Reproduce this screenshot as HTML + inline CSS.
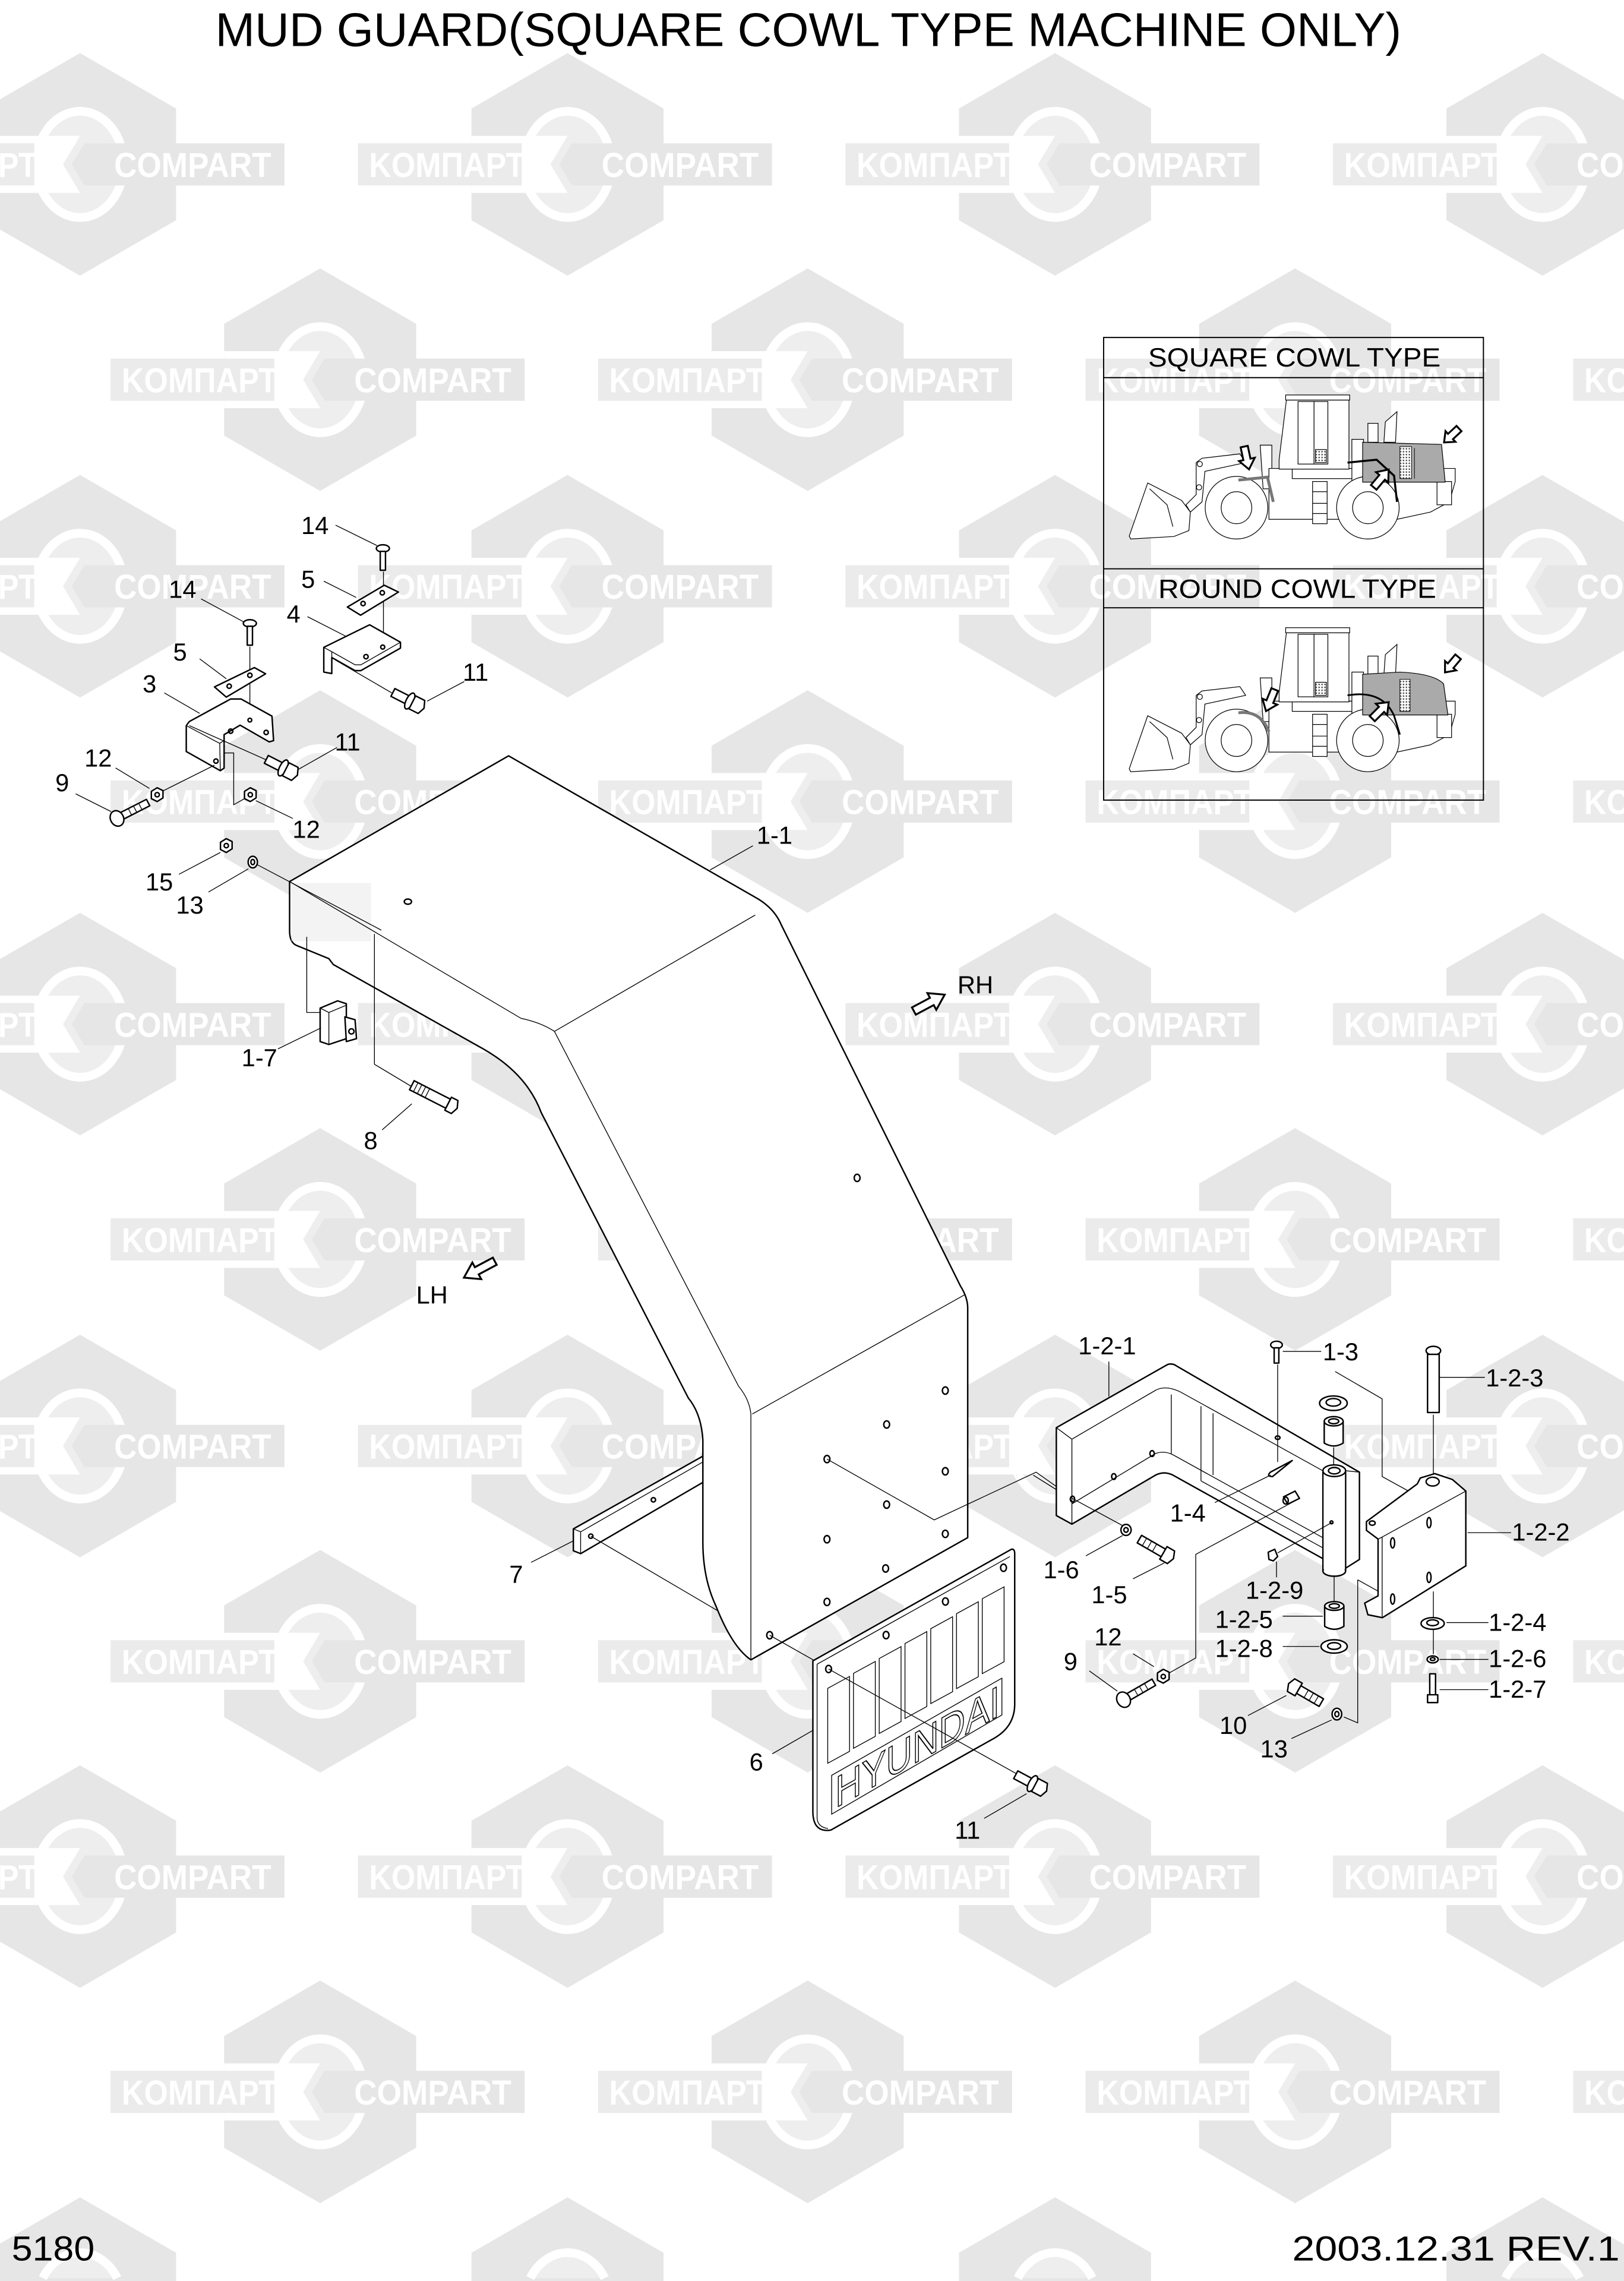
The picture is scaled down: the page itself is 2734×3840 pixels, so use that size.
<!DOCTYPE html>
<html><head><meta charset="utf-8"><style>
html,body{margin:0;padding:0;background:#fff;width:2734px;height:3840px;overflow:hidden}
svg{display:block}
.l{font-family:"Liberation Sans",sans-serif;font-size:17px;fill:#000}
.o{fill:#fff;stroke:#000;stroke-width:1;stroke-linejoin:round}
.n{fill:none;stroke:#000;stroke-width:1;stroke-linejoin:round}
.t{fill:none;stroke:#000;stroke-width:0.55}
.w{font-family:"Liberation Sans",sans-serif;font-weight:bold;font-size:24px;fill:#fff}
</style></head><body>
<svg width="2734" height="3840" viewBox="0 0 1116 1568" preserveAspectRatio="none" xmlns="http://www.w3.org/2000/svg">
<defs>
<g id="wm">
<polygon points="0,-76.5 66,-38.4 66,38.4 0,76.5 -66,38.4 -66,-38.4" fill="#e6e6e6"/>
<ellipse cx="0" cy="0" rx="30" ry="36.5" fill="#eeeeee" stroke="#fff" stroke-width="6"/>
<polygon points="-66,-19.6 0,-19.6 -11.7,0 0,19.6 -66,19.6" fill="#fff"/>
<rect x="-144" y="-14.5" width="112.5" height="29" fill="#ebebeb"/>
<polygon points="3,-14.5 140.5,-14.5 140.5,14.5 3,14.5 -5.7,0" fill="#e6e6e6"/>
<text class="w" x="-136.4" y="8.7" textLength="107" lengthAdjust="spacingAndGlyphs">KOMПАРТ</text>
<text class="w" x="23.4" y="8.7" textLength="108" lengthAdjust="spacingAndGlyphs">COMPART</text>
</g>
<g id="wmb">
<polygon points="0,-76.5 66,-38.4 66,-19 -66,-19 -66,-38.4" fill="#e6e6e6"/>
<path d="M-25.6,-21 A30 36.5 0 0 1 25.6,-21 Z" fill="#eeeeee"/>
<path d="M-25.6,-21 A30 36.5 0 0 1 25.6,-21" fill="none" stroke="#fff" stroke-width="6"/>
</g>
<pattern id="hatch" width="2" height="2" patternUnits="userSpaceOnUse"><rect width="2" height="2" fill="#fff"/><rect width="1" height="1" fill="#555"/></pattern>
</defs>
<rect width="1116" height="1568" fill="#fff"/>
<use href="#wm" x="55" y="113"/><use href="#wm" x="390" y="113"/><use href="#wm" x="725" y="113"/><use href="#wm" x="1060" y="113"/>
<use href="#wm" x="55" y="403"/><use href="#wm" x="390" y="403"/><use href="#wm" x="725" y="403"/><use href="#wm" x="1060" y="403"/>
<use href="#wm" x="55" y="704"/><use href="#wm" x="390" y="704"/><use href="#wm" x="725" y="704"/><use href="#wm" x="1060" y="704"/>
<use href="#wm" x="55" y="994"/><use href="#wm" x="390" y="994"/><use href="#wm" x="725" y="994"/><use href="#wm" x="1060" y="994"/>
<use href="#wm" x="55" y="1290"/><use href="#wm" x="390" y="1290"/><use href="#wm" x="725" y="1290"/><use href="#wm" x="1060" y="1290"/>
<use href="#wmb" x="55" y="1587"/><use href="#wmb" x="390" y="1587"/><use href="#wmb" x="725" y="1587"/><use href="#wmb" x="1060" y="1587"/>
<use href="#wm" x="220" y="261"/><use href="#wm" x="555" y="261"/><use href="#wm" x="890" y="261"/><use href="#wm" x="1225" y="261"/>
<use href="#wm" x="220" y="551"/><use href="#wm" x="555" y="551"/><use href="#wm" x="890" y="551"/><use href="#wm" x="1225" y="551"/>
<use href="#wm" x="220" y="852"/><use href="#wm" x="555" y="852"/><use href="#wm" x="890" y="852"/><use href="#wm" x="1225" y="852"/>
<use href="#wm" x="220" y="1142"/><use href="#wm" x="555" y="1142"/><use href="#wm" x="890" y="1142"/><use href="#wm" x="1225" y="1142"/>
<use href="#wm" x="220" y="1438"/><use href="#wm" x="555" y="1438"/><use href="#wm" x="890" y="1438"/><use href="#wm" x="1225" y="1438"/>

<text x="148" y="31.7" font-family="Liberation Sans, sans-serif" font-size="32.5" textLength="815" lengthAdjust="spacingAndGlyphs">MUD GUARD(SQUARE COWL TYPE MACHINE ONLY)</text>
<text x="8" y="1554" font-family="Liberation Sans, sans-serif" font-size="24" textLength="57" lengthAdjust="spacingAndGlyphs">5180</text>
<text x="888" y="1554" font-family="Liberation Sans, sans-serif" font-size="24" textLength="225" lengthAdjust="spacingAndGlyphs">2003.12.31  REV.1</text>

<g>
<rect x="758.4" y="232" width="261" height="318" fill="none" stroke="#000" stroke-width="0.8"/>
<line x1="758.4" y1="259.6" x2="1019.4" y2="259.6" stroke="#000" stroke-width="0.8"/>
<line x1="758.4" y1="391" x2="1019.4" y2="391" stroke="#000" stroke-width="0.8"/>
<line x1="758.4" y1="417.8" x2="1019.4" y2="417.8" stroke="#000" stroke-width="0.8"/>
<text x="789" y="252" font-family="Liberation Sans, sans-serif" font-size="18" textLength="201" lengthAdjust="spacingAndGlyphs">SQUARE COWL TYPE</text>
<text x="796" y="411" font-family="Liberation Sans, sans-serif" font-size="18" textLength="191" lengthAdjust="spacingAndGlyphs">ROUND COWL TYPE</text>
</g>
<g id="loader" fill="#fff" stroke="#000" stroke-width="0.5">
<path d="M788.7,332 L812,344 L818,352 L817,364.7 L806.7,368.8 L777,370.5 L776,368.5 Z"/>
<path d="M790,336 L802,347 L806,362" fill="none"/>
<path d="M822,318 L826,315 L852,312 L856,318 L828,324 L826,345 L818,352 L815,347 L822,340 Z"/>
<circle cx="824.5" cy="319" r="1.8"/><circle cx="824" cy="335" r="1.8"/>
<path d="M866,306 L874,306 L874,332 L878,334 L878,336 L868,336 Z"/>
<path d="M872,322 L1000,322 L1000,331 L996,345 L983,352 L960,357 L872,357 Z"/>
<rect x="888" y="322" width="46" height="7"/>
<rect x="987.5" y="331" width="10" height="16"/>
<path d="M884,275 L927,275 L927,322.5 L879,322.5 L879,316 Z"/>
<rect x="883.5" y="271.5" width="44" height="3.5"/>
<rect x="892" y="276" width="11" height="43"/><rect x="903" y="276" width="9.5" height="43"/>
<rect x="904" y="309" width="7.5" height="9" fill="url(#hatch)"/>
<rect x="902" y="331" width="10" height="29"/>
<line x1="902" y1="338" x2="912" y2="338"/><line x1="902" y1="346" x2="912" y2="346"/><line x1="902" y1="353" x2="912" y2="353"/>
<rect x="940" y="291" width="7" height="13"/>
<path d="M951,304 L952,290 L960,283 L959,304 Z"/>
<rect x="929" y="302" width="8" height="29"/>
<circle cx="849.7" cy="349" r="21.5"/><ellipse cx="849.7" cy="349" rx="10.5" ry="11"/>
<circle cx="940" cy="349" r="21.5"/><ellipse cx="940" cy="349" rx="10.5" ry="11"/>
</g>
<use href="#loader" x="0" y="160"/>
<path d="M936.4,304 L990.6,305.5 L993.1,331.4 L936.4,331.4 Z" fill="#aaa" stroke="#000" stroke-width="0.5"/>
<rect x="962" y="307" width="8" height="22" fill="url(#hatch)" stroke="#000" stroke-width="0.4"/>
<line x1="972" y1="308" x2="972" y2="329" stroke="#000" stroke-width="0.4"/>
<path d="M926,318 L946,316 L958,327 L960,345" fill="none" stroke="#000" stroke-width="1.4"/>
<path d="M851,330 L871,328 L875,345" fill="none" stroke="#777" stroke-width="2"/>
<path d="M936.4,463.5 L962,462 Q985,463 992,470 L995,491.5 L936.4,491.5 Z" fill="#aaa" stroke="#000" stroke-width="0.5"/>
<rect x="962" y="467" width="7" height="22" fill="url(#hatch)" stroke="#000" stroke-width="0.4"/>
<path d="M926,478 Q950,474 958,492 L962,505" fill="none" stroke="#000" stroke-width="1.2"/>
<path d="M851,490 Q866,488 872,503" fill="none" stroke="#777" stroke-width="2"/>
<g fill="#fff" stroke="#000" stroke-width="1.3">
<polygon transform="translate(855,307) rotate(78)" points="0,-2.5 9,-2.5 9,-5.5 16,0 9,5.5 9,2.5 0,2.5"/>
<polygon transform="translate(944,335) rotate(-50)" points="0,-2.5 9,-2.5 9,-5.5 16,0 9,5.5 9,2.5 0,2.5"/>
<polygon transform="translate(1002.6,294.6) rotate(137)" points="0,-2.5 8,-2.5 8,-5 14,0 8,5 8,2.5 0,2.5"/>
<polygon transform="translate(876,474) rotate(112)" points="0,-2.5 9,-2.5 9,-5.5 16,0 9,5.5 9,2.5 0,2.5"/>
<polygon transform="translate(943,494) rotate(-45)" points="0,-2.5 9,-2.5 9,-5.5 16,0 9,5.5 9,2.5 0,2.5"/>
<polygon transform="translate(1002,451.5) rotate(130)" points="0,-2.5 8,-2.5 8,-5 14,0 8,5 8,2.5 0,2.5"/>
</g>

<path class="o" d="M199,606 L349.5,519.6 L519,616.8 Q532,624 537,636 L660,884 Q665,892 665,899 L665,1057 L516,1141 Q503,1132 492,1104 Q483,1085 483,1060 L483,990 Q482,972 473,961 L372,765 Q362,738 332,721 L229,663 L226,659 L204,650 Q199,648 199,640 Z"/>
<rect x="200" y="607" width="55" height="40" fill="#ddd" opacity="0.35"/>
<path class="t" d="M199,606 L358,700 Q372,703 381,709 L507.6,953 Q515,962 516,972 L516,1141"/>
<path class="t" d="M381,709 L519,629 M517,972 L663,890"/>
<path class="t" d="M210.8,644 L210.8,696 L220,696 M257.3,642 L257.3,731.6 L283,747"/>
<g class="n">
<ellipse cx="280.3" cy="619.8" rx="2.5" ry="1.8"/>
<ellipse cx="589" cy="809.7" rx="2" ry="2.5"/>
<ellipse cx="649.6" cy="955.9" rx="2" ry="2.5"/><ellipse cx="609.3" cy="979.2" rx="2" ry="2.5"/><ellipse cx="568.3" cy="1003" rx="2" ry="2.5"/>
<ellipse cx="649.6" cy="1011.4" rx="2" ry="2.5"/><ellipse cx="609.3" cy="1034.3" rx="2" ry="2.5"/><ellipse cx="568.3" cy="1058.1" rx="2" ry="2.5"/>
<ellipse cx="649.6" cy="1054.4" rx="2" ry="2.5"/><ellipse cx="608.6" cy="1078.2" rx="2" ry="2.5"/><ellipse cx="568.3" cy="1101.2" rx="2" ry="2.5"/>
<ellipse cx="528.9" cy="1124.1" rx="2" ry="2.5"/>
</g>
<path class="t" d="M568.3,1003 L642,1044.8 L712,1012 L736,1029"/>
<path class="t" d="M528.9,1124.1 L560,1141.7"/>
<path class="t" d="M517.4,581.4 L488,598"/>
<text class="l" x="520" y="580">1-1</text>
<polygon transform="translate(628,695) rotate(-28)" points="0,-2.8 14,-2.8 14,-6.5 24,0 14,6.5 14,2.8 0,2.8" fill="#fff" stroke="#000" stroke-width="1.3"/>
<text class="l" x="658" y="683">RH</text>
<polygon transform="translate(340,867) rotate(152)" points="0,-2.8 14,-2.8 14,-6.5 24,0 14,6.5 14,2.8 0,2.8" fill="#fff" stroke="#000" stroke-width="1.3"/>
<text class="l" x="286" y="896">LH</text>
<path class="o" d="M220,693 L232,688 L238,690 L238,714 L226,718 L220,716 Z"/>
<path class="t" d="M220,693 L226,696 L238,691 M226,696 L226,718"/>
<path class="o" d="M237,699 L244,701 L245,714 L238,716 Z"/><circle class="n" cx="241.5" cy="709" r="1.8"/>
<path class="t" d="M191,721 L220.6,706.6"/>
<text class="l" x="166" y="733">1-7</text>
<g transform="translate(283,746) rotate(27)">
<rect class="o" x="0" y="-3.5" width="28" height="7"/>
<path class="t" d="M3,-3.5 V3.5 M6,-3.5 V3.5 M9,-3.5 V3.5 M12,-3.5 V3.5"/>
<path class="o" d="M28,-5 L33,-5 L35,0 L33,5 L28,5 Z"/>
</g>
<path class="t" d="M262.6,776.7 L283,758.8"/>
<text class="l" x="250" y="790">8</text>
<path class="o" d="M394,1051 L483,1001 L483,1019 L399,1068 L394,1066 Z"/>
<path class="t" d="M394,1051 L399,1053 L483,1005 M399,1053 L399,1068"/>
<circle class="n" cx="406" cy="1056" r="1.5"/><circle class="n" cx="449" cy="1031" r="1.5"/>
<path class="t" d="M365,1074 L394.4,1059 M406,1056 L492.8,1107"/>
<text class="l" x="350" y="1088">7</text>
<path class="o" d="M558.6,1141.7 L695,1065 Q697.3,1064.5 697.3,1068 L697.3,1172 Q697,1187 683,1195 L571,1258 Q559,1260 558.6,1246 Z"/>
<path class="t" d="M561.5,1144 L694,1070 M561.5,1144 L561.5,1250 Q562,1256 569,1257"/>
<g class="t" stroke-width="0.6">
<polygon points="568.8,1160.6 583.8,1152.4 583.8,1203.9 568.8,1212.1"/>
<polygon points="586.5,1150.3 601.5,1142.1 601.5,1193.6 586.5,1201.8"/>
<polygon points="604.2,1140.1 619.2,1131.9 619.2,1183.4 604.2,1191.6"/>
<polygon points="621.9,1129.8 636.9,1121.6 636.9,1173.1 621.9,1181.3"/>
<polygon points="639.6,1119.6 654.6,1111.4 654.6,1162.9 639.6,1171.1"/>
<polygon points="657.3,1109.3 672.3,1101.1 672.3,1152.6 657.3,1160.8"/>
<polygon points="675,1099 690,1090.8 690,1142.3 675,1150.5"/>
<polygon points="571.5,1220.4 688.5,1153.6 688.5,1178.9 571.5,1247.1"/>
</g>
<text transform="translate(574,1243) skewY(-29.5)" x="0" y="0" font-family="Liberation Sans, sans-serif" font-size="30" textLength="113" lengthAdjust="spacingAndGlyphs" fill="#fff" stroke="#000" stroke-width="0.7">HYUNDAI</text>
<g class="n"><ellipse cx="569.4" cy="1147.3" rx="2" ry="2.5"/><ellipse cx="608.9" cy="1124" rx="2" ry="2.5"/><ellipse cx="649.7" cy="1100.9" rx="2" ry="2.5"/><ellipse cx="689.6" cy="1077.7" rx="2" ry="2.5"/></g>
<path class="t" d="M569.4,1147.3 L698,1219"/>
<path class="t" d="M530.7,1205.6 L558.6,1189.5"/>
<text class="l" x="515" y="1217">6</text>
<g transform="translate(698,1220) rotate(28)">
<rect class="o" x="0" y="-3" width="12" height="6"/>
<ellipse class="o" cx="13" cy="0" rx="2.5" ry="6"/>
<path class="o" d="M15,-5 L22,-5 L24,0 L22,5 L15,5 Z"/>
</g>
<path class="t" d="M676.3,1250 L705.5,1233"/>
<text class="l" x="656" y="1264">11</text>

<ellipse class="o" cx="263.1" cy="377" rx="4.5" ry="2.5"/>
<rect class="o" x="261.3" y="379" width="3.6" height="13"/>
<path class="t" d="M263.5,393 L263.5,444.5"/>
<path class="t" d="M230.6,361 L259,375"/>
<text class="l" x="207" y="367">14</text>
<path class="o" d="M238.7,417.3 L264.1,402.3 L273.8,407 L247.8,422.9 Z"/>
<circle class="n" cx="249.5" cy="414.9" r="1.5"/><circle class="n" cx="262.7" cy="407.5" r="1.5"/>
<path class="t" d="M222.5,399.5 L244.8,410.7"/>
<text class="l" x="207" y="404">5</text>
<path class="o" d="M222.5,445 L254,429.5 L275.2,441.5 L275.2,445.5 L248,461 L244,461 L228,452 L228,463 L222.5,462 Z"/>
<path class="t" d="M222.5,445 L228,448 L244,457 L248,457 L275.2,441.5 M228,448 L228,452"/>
<circle class="n" cx="263" cy="444.8" r="1.4"/><circle class="n" cx="251.5" cy="451.4" r="1.5"/>
<path class="t" d="M211.3,423.9 L237.7,437.4"/>
<text class="l" x="197" y="428">4</text>
<path class="t" d="M230.6,453.8 L269.2,476.3"/>
<g transform="translate(270,476) rotate(27)">
<rect class="o" x="0" y="-3" width="12" height="6"/>
<ellipse class="o" cx="13" cy="0" rx="2.5" ry="6"/>
<path class="o" d="M15,-5 L22,-5 L24,0 L22,5 L15,5 Z"/>
</g>
<path class="t" d="M319,468.5 L293.5,482"/>
<text class="l" x="318" y="468">11</text>
<ellipse class="o" cx="171.7" cy="428.5" rx="4.5" ry="2.5"/>
<rect class="o" x="169.9" y="430.5" width="3.6" height="13"/>
<path class="t" d="M171.7,444.5 L171.7,495"/>
<path class="t" d="M138.2,411.7 L167.7,427.6"/>
<text class="l" x="116" y="411">14</text>
<path class="o" d="M147.4,472.2 L174.8,458.9 L182.5,463.2 L155.5,479.2 Z"/>
<circle class="n" cx="157.5" cy="471.7" r="1.5"/><circle class="n" cx="171.7" cy="464.2" r="1.5"/>
<path class="t" d="M137.2,452.9 L155.5,466.6"/>
<text class="l" x="119" y="454">5</text>
<path class="o" d="M130.1,496 L158.5,480.5 L165.6,480.5 L186.9,492.3 L188,509.1 L185,510 L165,498.5 L154,505 L154,528 L151.4,529.8 L128,516.6 L128,498.8 Z"/>
<path class="t" d="M128,498.8 L151,511 L154,509 M151,511 L151.4,529.8 M154,505 L154,511"/>
<circle class="n" cx="182.9" cy="503.5" r="1.5"/><circle class="n" cx="171.7" cy="495" r="1.3"/><circle class="n" cx="158.5" cy="502.6" r="1.5"/><circle class="n" cx="148.4" cy="523.2" r="1.5"/>
<path class="t" d="M112.9,476.3 L137.2,490.4"/>
<text class="l" x="98" y="476">3</text>
<path class="t" d="M130.1,498.8 L182.9,522.3"/>
<g transform="translate(183,522) rotate(27)">
<rect class="o" x="0" y="-3" width="12" height="6"/>
<ellipse class="o" cx="13" cy="0" rx="2.5" ry="6"/>
<path class="o" d="M15,-5 L22,-5 L24,0 L22,5 L15,5 Z"/>
</g>
<path class="t" d="M231.6,513.8 L205.2,528.8"/>
<text class="l" x="230" y="516">11</text>
<path class="t" d="M147.4,526 L111.8,543.8"/>
<polygon class="o" points="104,544 108,541.5 112,543.5 112,548.5 108,551 104,549"/>
<circle class="n" cx="108" cy="546.3" r="1.5"/>
<path class="t" d="M79.4,527.9 L102.7,542"/>
<text class="l" x="58" y="527">12</text>
<g transform="translate(80.4,562.6) rotate(-27)">
<rect class="o" x="2" y="-2.5" width="22" height="5"/>
<path class="t" d="M10,-2.5 V2.5 M14,-2.5 V2.5 M18,-2.5 V2.5"/>
<ellipse class="o" cx="0" cy="0" rx="4.5" ry="5.5"/>
</g>
<path class="t" d="M52,545.7 L76.3,557.9"/>
<text class="l" x="38" y="544">9</text>
<path class="t" d="M154.5,517.6 L160.6,517.6 L160.6,553.2 L168,549"/>
<polygon class="o" points="168,544 172,541.5 176,543.5 176,548.5 172,551 168,549"/>
<circle class="n" cx="172" cy="546.3" r="1.5"/>
<path class="t" d="M201.2,562.6 L175.8,550.4"/>
<text class="l" x="201" y="576">12</text>
<polygon class="o" points="151.5,579 155.5,576.5 159.5,578.5 159.5,583.5 155.5,586 151.5,584"/>
<circle class="n" cx="155.5" cy="581.3" r="1.5"/>
<path class="t" d="M123,601 L151.4,586"/>
<text class="l" x="100" y="612">15</text>
<ellipse class="o" cx="173.7" cy="592.6" rx="3.2" ry="4"/><ellipse class="n" cx="173.7" cy="592.6" rx="1.3" ry="1.8"/>
<path class="t" d="M143.3,613.2 L170.7,597.2 M176.8,594.4 L262,639.4"/>
<text class="l" x="121" y="628">13</text>

<path class="t" d="M710,1014 L725.9,1024"/>
<path class="o" d="M725.9,981.4 L802.5,937.9 Q806,937 808.5,939 L934.2,1012 L934.2,1072 L924.7,1078 L909,1071.4 L806,1014 Q800,1011 794.1,1014 L736.6,1047.7 L725.9,1041.8 Z"/>
<path class="t" d="M725.9,981.4 L736.6,989.3 L794.1,955.7 Q801,952 810.9,956.7 L909,1011 M736.6,989.3 L736.6,1047.7 M736.6,1033.8 L794,999.2 Q800,997 806,1000 L909,1057"/>
<path class="t" d="M804.9,958.6 L804.9,999.2 M825.3,966.6 L825.3,1018 M833.6,971.5 L833.6,1014 M825.3,1018 L909,1064"/>
<g class="n"><ellipse cx="737" cy="1030.5" rx="1.5" ry="2"/><ellipse cx="765.4" cy="1015" rx="1.5" ry="2"/><ellipse cx="791.7" cy="999.2" rx="1.5" ry="2"/><ellipse cx="878" cy="988.3" rx="1.6" ry="1.2"/></g>
<rect class="o" x="909.1" y="1012" width="15.6" height="68"/>
<ellipse class="o" cx="916.9" cy="1080" rx="7.8" ry="3.5"/>
<rect x="909.6" y="1012" width="14.6" height="67" fill="#fff"/>
<path class="t" d="M909.1,1012 L909.1,1080 M924.7,1012 L924.7,1080 M924.7,1011 L934.2,1012"/>
<ellipse class="o" cx="916.9" cy="1011" rx="7.8" ry="4"/><ellipse class="n" cx="916.9" cy="1011" rx="4" ry="2.2"/>
<circle class="n" cx="915" cy="1046.5" r="1"/>
<text class="l" x="741" y="931">1-2-1</text>
<path class="t" d="M762,936 L762,960"/>
<ellipse class="o" cx="916.3" cy="964.6" rx="9.5" ry="5"/><ellipse class="n" cx="916.3" cy="964" rx="5" ry="2.6"/>
<path class="o" d="M910,977 L910,992 Q916.5,996 923,992 L923,977 Z"/><ellipse class="o" cx="916.5" cy="977" rx="6.5" ry="3.2"/><ellipse class="n" cx="916.5" cy="977" rx="3.5" ry="1.7"/>
<path class="t" d="M916.5,995 L916.5,1007 M917.5,942.8 L949.8,961.6 L949.8,1015 L971.4,1026.9"/>
<ellipse class="o" cx="877.2" cy="924.5" rx="4" ry="2.5"/><rect class="o" x="875.6" y="926.5" width="3.2" height="10.5"/>
<path class="t" d="M881.5,929 L907.9,929 M878,938 L878,1005"/>
<text class="l" x="909" y="935">1-3</text>
<ellipse class="o" cx="985" cy="928.5" rx="5" ry="3"/><rect class="o" x="981" y="931" width="8" height="40"/>
<path class="t" d="M989.3,946.8 L1020.4,946.8 M985,972.5 L985,1014"/>
<text class="l" x="1021" y="953">1-2-3</text>
<path class="o" d="M939,1046 L974,1020 L976,1016 L986,1013 L998,1017 L1007.3,1025 L1007.3,1076.4 L950,1112 L940,1110 L937.8,1102 L947,1097 L947,1058 L939,1052 Z"/>
<path class="t" d="M949.8,1056.6 L1007.3,1025 M947,1058 L949.8,1056.6 L949.8,1112"/>
<ellipse class="n" cx="984.5" cy="1018.5" rx="4.5" ry="3"/><ellipse class="n" cx="943" cy="1047" rx="2" ry="1.5"/>
<g class="n"><ellipse cx="982" cy="1046.7" rx="1.4" ry="3.5"/><ellipse cx="957" cy="1060.6" rx="1.4" ry="3.5"/><ellipse cx="982" cy="1084.3" rx="1.4" ry="3.5"/><ellipse cx="957" cy="1099.2" rx="1.4" ry="3.5"/></g>
<path class="t" d="M1008.5,1053.6 L1038.4,1053.6"/>
<text class="l" x="1039" y="1059">1-2-2</text>
<path class="t" d="M985,1094 L985,1112 M985,1120 L985,1137"/>
<ellipse class="o" cx="984.5" cy="1116" rx="8" ry="4"/><ellipse class="n" cx="984.5" cy="1115.5" rx="4" ry="2"/>
<path class="t" d="M994,1115.4 L1022.8,1115.4"/><text class="l" x="1023" y="1121">1-2-4</text>
<ellipse class="o" cx="984.5" cy="1140.7" rx="3.8" ry="2.4"/><ellipse class="n" cx="984.5" cy="1140.5" rx="1.6" ry="1"/>
<path class="t" d="M989.3,1140.7 L1022.8,1140.7"/><text class="l" x="1023" y="1146">1-2-6</text>
<rect class="o" x="982.5" y="1150.6" width="4" height="15"/><path class="o" d="M981,1165 L988,1165 L988,1170.4 L981,1170.4 Z"/>
<path class="t" d="M989.3,1161.5 L1022.8,1161.5"/><text class="l" x="1023" y="1167">1-2-7</text>
<path class="t" d="M916.8,1083 L916.8,1101"/>
<path class="o" d="M910.3,1104 L910.3,1118 Q917,1122 923.5,1118 L923.5,1104 Z"/><ellipse class="o" cx="916.9" cy="1104" rx="6.6" ry="3"/><ellipse class="n" cx="916.9" cy="1104" rx="3.5" ry="1.6"/>
<path class="t" d="M881.5,1111 L909.1,1111"/><text class="l" x="835" y="1119">1-2-5</text>
<ellipse class="o" cx="916.8" cy="1131.8" rx="9" ry="4.6"/><ellipse class="n" cx="916.8" cy="1131.5" rx="4.5" ry="2.3"/>
<path class="t" d="M881.5,1131.8 L906.7,1131.8"/><text class="l" x="835" y="1139">1-2-8</text>
<path class="o" d="M871.5,1067 L876,1065 L878,1070 L875,1073 L872,1072 Z"/>
<path class="t" d="M878,1067.5 L915.1,1046.7 M877.2,1073.4 L877.2,1084.3"/>
<text class="l" x="856" y="1099">1-2-9</text>
<path class="o" d="M873,1012 L888,1004 L874.5,1015 Q870,1015 873,1012 Z"/>
<path class="t" d="M834.8,1032.9 L873.2,1014"/>
<text class="l" x="804" y="1046">1-4</text>
<path class="o" d="M882,1029 L890,1025 L893,1030 L885,1034 Z"/><ellipse class="n" cx="883.5" cy="1031.5" rx="1.8" ry="2.4"/>
<path class="t" d="M887.5,1033 L821.7,1068.5 L821.7,1139.7 L802.5,1150.6"/>
<path class="t" d="M736.6,1029.9 L772,1049"/>
<ellipse class="o" cx="773.8" cy="1051.7" rx="3.5" ry="3.8"/><ellipse class="n" cx="773.8" cy="1051.7" rx="1.5" ry="1.6"/>
<path class="t" d="M746.2,1069.5 L771.4,1055.6"/><text class="l" x="717" y="1085">1-6</text>
<g transform="translate(783,1058) rotate(30)">
<rect class="o" x="0" y="-3" width="20" height="6"/>
<path class="t" d="M4,-3 V3 M8,-3 V3 M12,-3 V3"/>
<path class="o" d="M19,-5 L25,-5 L27,0 L25,5 L19,5 Z"/>
</g>
<path class="t" d="M778.6,1085.3 L800.1,1074.4"/><text class="l" x="750" y="1102">1-5</text>
<polygon class="o" points="795.4,1150 799.4,1147.5 803.4,1149.5 803.4,1154.5 799.4,1157 795.4,1155"/>
<circle class="n" cx="799.4" cy="1152.5" r="1.5"/>
<path class="t" d="M778.6,1136.8 L793,1145.7"/><text class="l" x="752" y="1131">12</text>
<g transform="translate(772.1,1168.4) rotate(-30)">
<rect class="o" x="2" y="-2.5" width="22" height="5"/>
<path class="t" d="M10,-2.5 V2.5 M14,-2.5 V2.5 M18,-2.5 V2.5"/>
<ellipse class="o" cx="0" cy="0" rx="4.5" ry="5.5"/>
</g>
<path class="t" d="M748.6,1148.6 L767.8,1162.5"/><text class="l" x="731" y="1148">9</text>
<g transform="translate(908,1170.4) rotate(-150)">
<rect class="o" x="0" y="-3" width="18" height="6"/>
<path class="t" d="M4,-3 V3 M8,-3 V3 M12,-3 V3"/>
<path class="o" d="M18,-5 L24,-5 L26,0 L24,5 L18,5 Z"/>
</g>
<path class="t" d="M857.6,1179.3 L884,1165.5"/><text class="l" x="838" y="1192">10</text>
<path class="t" d="M933,1086 L947.4,1094 M933,1086 L933,1184.3 L923.5,1180.3"/>
<ellipse class="o" cx="918.7" cy="1178.3" rx="3.3" ry="4"/><ellipse class="n" cx="918.7" cy="1178.3" rx="1.4" ry="1.8"/>
<path class="t" d="M887.5,1195.1 L915.1,1182.3"/><text class="l" x="866" y="1208">13</text>
</svg>
</body></html>
